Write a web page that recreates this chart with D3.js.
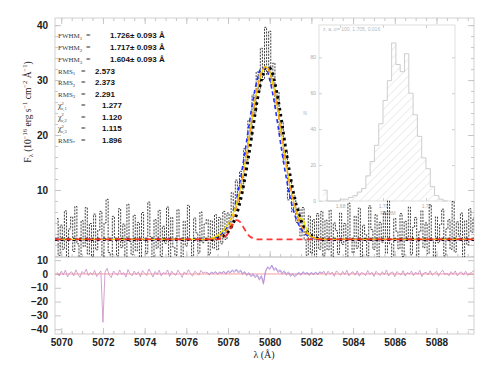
<!DOCTYPE html>
<html>
<head>
<meta charset="utf-8">
<script src="https://cdn.jsdelivr.net/npm/d3@7/dist/d3.min.js"></script>
<style>
  body { margin: 0; background: #fff; }
  svg { display: block; }
  .tick text { font-family: "Liberation Sans", Arial, sans-serif; font-weight: bold; font-size: 10px; fill: #222; }
  .inset .tick text { font-size: 5px; font-weight: normal; fill: #aaa; }
</style>
</head>
<body>
<svg width="490" height="368"></svg>
<script>
// observed spectrum, sampled every 0.1 A from 5069.8 A
var lamStart = 5069.8, lamStep = 0.1;
var flux = [
  4.8, -1.9, 3.6, -0.8, 6.2, -2.4, 2.9, 5.1, -1.2, 7.0, 0.2, -2.8, 4.4, -0.3, 6.8, -1.7, 3.9, -2.2, 5.6, -0.9,
  2.7, 6.1, -2.6, 4.0, 8.3, -1.4, -3.0, 5.2, 1.0, -2.0, 6.6, -0.5, 3.8, -2.9, 7.4, 0.6, -1.8, 5.4, -1.1, 4.1,
  -2.7, 5.9, 0.8, -1.6, 7.8, 1.5, -2.5, 4.6, -0.6, 6.3, -2.1, 3.4, 0.3, 6.9, -2.3, 5.0, -0.4, -1.9, 6.4, 1.2,
  -2.8, 4.3, -0.2, 7.2, 0.9, -2.0, 4.9, 2.2, -1.5, 6.0, 0.4, 3.8,
  4.6, -1.8, 4.4, -0.6, 5.5, -0.9, 5.0, 0.2, 6.1, 1.0, 5.8, 3.0, 9.5, 6.2, 11.8, 7.5, 13.4, 10.2, 17.5, 14.8,
  22.6, 19.4, 27.3, 24.0, 31.5, 28.2, 35.8, 30.1, 39.6, 31.0, 38.9, 29.2, 33.1, 25.3, 27.8, 20.1, 22.5, 15.0,
  16.9, 8.2, 11.5, 6.0, 8.9, 4.1, 6.7, 1.6, 6.8, 0.9, -1.9, 5.3, -1.5, 4.6, -2.4, 5.7, -0.8, 6.1, -2.0,
  4.5, -0.9, 6.3, -2.4, 4.0, 2.6, -1.7, 5.8, 0.1, 3.9, -2.8, 7.6, 1.0, -1.4, 5.2, -0.6, 6.7, -2.2, 3.6, 1.9,
  -2.0, 7.1, 2.8, -0.8, 5.5, -2.6, 4.1, 0.5, 6.0, -1.5, 8.0, 0.2, -2.4, 4.8, 2.5, -0.7, 5.7, -2.1, 4.3, 1.1,
  6.9, -1.8, 3.2, 5.0, -2.7, 2.4, 6.2, -0.5, 4.0, -1.6, 7.3, 0.9, -2.9, 5.1, 0.4, 3.7, 6.5, -2.0, 2.9, 4.6,
  -0.8, 7.9, -1.3, 4.2, 1.6, 5.8, -2.3, 4.4, 0.0, 6.6, 2.3, 4.9
];

// residuals on the same grid
var resid = [
  1.2, -1.5, 2.0, -0.6, 2.8, -2.1, 0.5, 1.6, -1.3, 3.0, -0.2, -2.4, 1.8, 0.1, 3.5, -1.2, 1.1, -0.8, 2.6, -1.9,
  0.4, 2.2, -35.0, 1.3, 4.1, -0.7, -2.6, 2.0, 0.8, -1.0, 2.9, -0.3, 1.0, -2.2, 3.2, 0.2, -1.4, 2.1, -0.5, 1.6,
  -2.0, 2.4, 0.5, -1.1, 3.6, 0.9, -2.3, 1.8, -0.4, 2.7, -1.5, 1.2, 0.0, 2.9, -1.8, 2.0, -0.1, -0.9, 2.8, 0.4,
  -2.5, 1.5, -0.3, 3.1, 0.3, -1.6, 1.9, 0.9, -0.9, 2.6, 0.6, 1.4,
  0.8, -0.6, 1.1, 0.2, 1.4, -0.3, 1.0, 0.4, 1.6, -0.2, 1.9, 0.5, 2.4, 1.0, 2.8, 0.6, 2.1, -0.5, 1.2, -1.3,
  0.4, -2.0, -0.6, -2.8, -1.2, -4.5, -2.0, -7.5, 1.5, 4.8, 3.2, 6.0, 2.5, 3.8, 1.0, 2.2, -0.3, 1.4, -0.9, 0.6,
  -1.8, -0.4, -2.2, -0.8, 0.5, -1.0, 1.2, -0.3, 0.7, -1.1, 0.9, -0.8, 1.1, -0.6, 1.3, 0.2, 1.8,
  -1.1, 2.0, -0.2, 1.4, -1.7, 2.3, 0.6, -1.0, 1.9, -0.5, 2.7, -1.3, 0.8, 1.6, -0.9, 2.2, -1.6, 1.1, 0.4, -1.2,
  2.5, -0.4, 1.3, -1.8, 2.0, 0.2, -1.1, 1.7, -0.6, 2.9, -1.4, 0.9, 1.5, -2.0, 1.8, 0.3, -0.8, 2.4, -1.5, 1.0,
  0.1, 2.1, -1.2, 1.4, -0.3, 2.6, -1.9, 0.7, 1.2, -0.7, 2.3, -1.0, 0.5, 1.9, -1.6, 1.1, 2.8, -0.5, 0.6, -1.3,
  1.7, -0.2, 2.2, -1.4, 0.9, 1.5, -0.8, 2.0, -1.1, 0.4, 1.3, 2.4
];

// second residual (blue), only across the line, from 5077.0 A every 0.1 A
var residBlueStart = 5077.0;
var residBlue = [
  1.0, -0.2, 1.3, 0.6, 1.7, 0.2, 1.4, 0.8, 2.0, 0.3, 2.4, 1.1, 3.0, 1.8, 3.6, 1.5, 2.8, 0.4, 1.8, -0.4,
  1.0, -1.2, 0.2, -1.8, -0.4, -3.4, -1.1, -6.2, 2.2, 5.2, 3.9, 6.5, 3.4, 4.6, 2.0, 3.1, 0.9, 2.3, 0.2, 1.5,
  -0.8, 0.5, -1.2, 0.1, 1.2, -0.3, 1.7, 0.3, 1.2, -0.5, 1.3, -0.3, 1.5, -0.2, 1.6, 0.6, 2.1
];

// fitted models, from 5077.0 A every 0.2 A; flat continuum outside
var continuum = 1.0;
var fitStart = 5077.0, fitStep = 0.2;
var modelBlack  = [1.0, 1.0, 1.1, 1.3, 1.7, 2.4, 3.6, 5.5, 8.3, 12.1, 16.6, 21.6, 26.4, 30.1, 32.2, 32.2, 30.1, 26.4, 21.6, 16.6, 12.1, 8.3, 5.5, 3.6, 2.4, 1.7, 1.3, 1.1, 1.0];
var modelBlue   = [1.0, 1.1, 1.3, 1.7, 2.4, 3.6, 5.5, 8.3, 12.1, 16.6, 21.6, 26.4, 30.1, 32.2, 32.2, 30.1, 26.4, 21.6, 16.6, 12.1, 8.3, 5.5, 3.6, 2.4, 1.7, 1.3, 1.1, 1.0, 1.0];
var modelYellow = [1.0, 1.2, 1.5, 2.0, 2.8, 3.8, 5.3, 7.4, 10.4, 14.4, 19.1, 24.0, 28.2, 31.2, 32.4, 31.5, 28.6, 24.3, 19.3, 14.5, 10.3, 7.0, 5.0, 4.6, 2.4, 1.5, 1.2, 1.1, 1.0];
var modelOrange = [1.0, 1.1, 1.2, 1.5, 2.0, 2.9, 4.4, 6.8, 10.1, 14.3, 19.1, 24.1, 28.4, 31.4, 32.5, 31.4, 28.4, 24.1, 19.1, 14.3, 10.1, 6.8, 4.4, 2.9, 2.0, 1.5, 1.2, 1.1, 1.0];
var compRed     = [1.0, 1.0, 1.0, 1.1, 1.3, 2.1, 3.5, 4.5, 4.1, 2.8, 1.7, 1.2, 1.0, 1.0, 1.0];

// fit summary text
var fitLabels = ["FWHM|1", "FWHM|2", "FWHM|3", "RMS|1", "RMS|2", "RMS|3", "χ|ν,1", "χ|ν,2", "χ|ν,3", "RMS|*"];
var fitValues = ["1.726± 0.093 Å", "1.717± 0.093 Å", "1.604± 0.093 Å", "2.573", "2.373", "2.291", "1.277", "1.120", "1.115", "1.896"];

// inset histogram of FWHM
var binStart = 1.672, binWidth = 0.002;
var binCounts = [6, 0, 0, 0, 1, 1, 2, 3, 5, 7, 14, 22, 31, 43, 56, 67, 88, 76, 72, 82, 60, 48, 36, 24, 18, 8, 3, 1, 0];

var xTicks = [5070, 5072, 5074, 5076, 5078, 5080, 5082, 5084, 5086, 5088];
var mainYTicks = [0, 10, 20, 30, 40];
var residYTicks = [-40, -30, -20, -10, 0, 10];
var insetXTicks = [1.68, 1.70, 1.72];
var insetYTicks = [0, 20, 40, 60, 80];

var svg = d3.select("svg");
var frameColor = "#c6c6c6";

var x = d3.scaleLinear().domain([5069.7, 5089.8]).range([55, 474]);
var y = d3.scaleLinear().domain([-2.2, 41.3]).range([257, 18]);
var yr = d3.scaleLinear().domain([-43.5, 12.3]).range([334, 257]);

var defs = svg.append("defs");
defs.append("clipPath").attr("id", "clipMain")
  .append("rect").attr("x", 55).attr("y", 18).attr("width", 419).attr("height", 239);
defs.append("clipPath").attr("id", "clipRes")
  .append("rect").attr("x", 55).attr("y", 257).attr("width", 419).attr("height", 77);
defs.append("pattern").attr("id", "hatch")
    .attr("patternUnits", "userSpaceOnUse")
    .attr("width", 6).attr("height", 6)
    .attr("patternTransform", "rotate(45)")
  .append("line")
    .attr("x1", 0).attr("y1", 0).attr("x2", 0).attr("y2", 6)
    .attr("stroke", "#c8c8c8").attr("stroke-width", 0.7);

// style a tick group: light ticks, no domain line
function styleAxis(g) {
  g.select(".domain").remove();
  g.selectAll(".tick line").attr("stroke", frameColor);
}

// ---------- main panel axes ----------
var minorX = d3.range(5070, 5090, 0.5);
svg.append("g").attr("transform", "translate(0,18)")
  .call(d3.axisTop(x).tickValues(minorX).tickSize(-3).tickFormat("")).call(styleAxis);
svg.append("g").attr("transform", "translate(0,18)")
  .call(d3.axisTop(x).tickValues(xTicks).tickSize(-6).tickFormat("")).call(styleAxis);
svg.append("g").attr("transform", "translate(0,257)")
  .call(d3.axisBottom(x).tickValues(minorX).tickSize(-3).tickFormat("")).call(styleAxis);
svg.append("g").attr("transform", "translate(0,257)")
  .call(d3.axisBottom(x).tickValues(xTicks).tickSize(-6).tickFormat("")).call(styleAxis);

svg.append("g").attr("transform", "translate(55,0)")
  .call(d3.axisLeft(y).tickValues(d3.range(-2, 42, 2)).tickSize(-3).tickFormat("")).call(styleAxis);
svg.append("g").attr("transform", "translate(55,0)")
  .call(d3.axisLeft(y).tickValues(mainYTicks).tickSize(-6).tickPadding(7)
    .tickFormat(function(d) { return d === 0 ? "" : d; }))
  .call(styleAxis);
svg.append("g").attr("transform", "translate(474,0)")
  .call(d3.axisRight(y).tickValues(d3.range(-2, 42, 2)).tickSize(-3).tickFormat("")).call(styleAxis);
svg.append("g").attr("transform", "translate(474,0)")
  .call(d3.axisRight(y).tickValues(mainYTicks).tickSize(-6).tickFormat("")).call(styleAxis);

// ---------- residual panel axes ----------
svg.append("g").attr("transform", "translate(0,334)")
  .call(d3.axisBottom(x).tickValues(minorX).tickSize(-3).tickFormat("")).call(styleAxis);
svg.append("g").attr("transform", "translate(0,334)")
  .call(d3.axisBottom(x).tickValues(xTicks).tickSize(-6).tickPadding(5).tickFormat(d3.format("d")))
  .call(styleAxis);
svg.append("g").attr("transform", "translate(55,0)")
  .call(d3.axisLeft(yr).tickValues(residYTicks).tickSize(-6).tickPadding(7)
    .tickFormat(function(d) { return String(d).replace("-", "\u2212"); }))
  .call(styleAxis);
svg.append("g").attr("transform", "translate(474,0)")
  .call(d3.axisRight(yr).tickValues(residYTicks).tickSize(-6).tickFormat("")).call(styleAxis);

// frames
svg.append("rect").attr("x", 55).attr("y", 18).attr("width", 419).attr("height", 239)
  .attr("fill", "none").attr("stroke", frameColor).attr("stroke-width", 0.8);
svg.append("rect").attr("x", 55).attr("y", 257).attr("width", 419).attr("height", 77)
  .attr("fill", "none").attr("stroke", frameColor).attr("stroke-width", 0.8);

// ---------- inset histogram ----------
var xi = d3.scaleLinear().domain([1.6702, 1.7335]).range([319, 455]);
var yi = d3.scaleLinear().domain([0, 98]).range([201, 25]);
var inset = svg.append("g").attr("class", "inset");

inset.append("rect").attr("x", 319).attr("y", 25).attr("width", 136).attr("height", 176)
  .attr("fill", "#fff").attr("stroke", "#d0d0d0").attr("stroke-width", 0.7);

var histPts = binCounts.map(function(c, i) { return [binStart + i * binWidth, c]; });
histPts.push([binStart + binCounts.length * binWidth, 0]);
var histLine = d3.line()
  .curve(d3.curveStepAfter)
  .x(function(d) { return xi(d[0]); })
  .y(function(d) { return yi(d[1]); });
var histArea = d3.area()
  .curve(d3.curveStepAfter)
  .x(function(d) { return xi(d[0]); })
  .y0(yi(0))
  .y1(function(d) { return yi(d[1]); });
inset.append("path").attr("d", histArea(histPts)).attr("fill", "url(#hatch)");
inset.append("path").attr("d", histLine(histPts))
  .attr("fill", "none").attr("stroke", "#c2c2c2").attr("stroke-width", 0.8);

var insetAx = [
  [d3.axisLeft(yi).tickValues(insetYTicks).tickSize(-3).tickPadding(3), "translate(319,0)"],
  [d3.axisRight(yi).tickValues(insetYTicks).tickSize(-3).tickFormat(""), "translate(455,0)"],
  [d3.axisBottom(xi).tickValues(insetXTicks).tickSize(-3).tickPadding(3).tickFormat(d3.format(".2f")), "translate(0,201)"],
  [d3.axisTop(xi).tickValues(insetXTicks).tickSize(-3).tickFormat(""), "translate(0,25)"]
];
insetAx.forEach(function(a) {
  inset.append("g").attr("transform", a[1]).call(a[0]).call(function(g) {
    g.select(".domain").remove();
    g.selectAll(".tick line").attr("stroke", "#d0d0d0");
  });
});
inset.append("text").attr("x", 388).attr("y", 215).attr("text-anchor", "middle")
  .style("font", "5px 'Liberation Sans', sans-serif").attr("fill", "#b0b0b0").text("FWHM");
inset.append("text").attr("x", 305).attr("y", 115).attr("text-anchor", "middle")
  .style("font", "5px 'Liberation Sans', sans-serif").attr("fill", "#b0b0b0").text("N");
inset.append("text").attr("x", 323).attr("y", 31)
  .style("font", "5px 'Liberation Sans', sans-serif").attr("fill", "#b8b8b8")
  .text("z, a, σ=  100,   1.705,   0.016");

// ---------- spectrum ----------
var main = svg.append("g").attr("clip-path", "url(#clipMain)");

var stepLine = d3.line()
  .curve(d3.curveStep)
  .x(function(d) { return x(d[0]); })
  .y(function(d) { return y(d[1]); });

var specPts = flux.map(function(v, i) { return [lamStart + i * lamStep, v]; });
main.append("path").attr("d", stepLine(specPts))
  .attr("fill", "none").attr("stroke", "#111").attr("stroke-width", 0.8)
  .attr("stroke-dasharray", "2,1.2");

// models with continuum carried to the panel edges
function modelPts(arr) {
  var pts = [[x.domain()[0], continuum]];
  arr.forEach(function(v, i) { pts.push([fitStart + i * fitStep, v]); });
  pts.push([x.domain()[1], continuum]);
  return pts;
}
var smooth = d3.line()
  .curve(d3.curveMonotoneX)
  .x(function(d) { return x(d[0]); })
  .y(function(d) { return y(d[1]); });

main.append("path").attr("d", smooth(modelPts(modelBlack)))
  .attr("fill", "none").attr("stroke", "#000").attr("stroke-width", 3.2)
  .attr("stroke-dasharray", "2.6,3.4");
main.append("path").attr("d", smooth(modelPts(modelBlue)))
  .attr("fill", "none").attr("stroke", "#2030ff").attr("stroke-width", 1.6)
  .attr("stroke-dasharray", "4,3").attr("stroke-dashoffset", 2);
main.append("path").attr("d", smooth(modelPts(modelYellow)))
  .attr("fill", "none").attr("stroke", "#f4e000").attr("stroke-width", 1.3);
main.append("path").attr("d", smooth(modelPts(modelOrange)))
  .attr("fill", "none").attr("stroke", "#ff9a10").attr("stroke-width", 1.4)
  .attr("stroke-dasharray", "5,3").attr("stroke-dashoffset", 4);
main.append("path").attr("d", smooth(modelPts(compRed)))
  .attr("fill", "none").attr("stroke", "#ff2020").attr("stroke-width", 1.8)
  .attr("stroke-dasharray", "6,4").attr("opacity", 0.9);

// ---------- residuals ----------
var res = svg.append("g").attr("clip-path", "url(#clipRes)");
var resLine = d3.line()
  .x(function(d) { return x(d[0]); })
  .y(function(d) { return yr(d[1]); });
res.append("line").attr("x1", 55).attr("x2", 474).attr("y1", yr(0)).attr("y2", yr(0))
  .attr("stroke", "#f08080").attr("stroke-width", 0.8);
res.append("path").attr("d", resLine(residBlue.map(function(v, i) { return [residBlueStart + i * lamStep, v]; })))
  .attr("fill", "none").attr("stroke", "#8c8cf0").attr("stroke-width", 0.9).attr("opacity", 0.8);
res.append("path").attr("d", resLine(resid.map(function(v, i) { return [lamStart + i * lamStep, v]; })))
  .attr("fill", "none").attr("stroke", "#c487c4").attr("stroke-width", 0.9).attr("opacity", 0.85);

// ---------- fit summary text ----------
var rowY = [38, 50, 62, 73.5, 85, 96.5, 108, 119.5, 131, 142.5];
var eqX = {FWHM: 86, RMS: 81, "χ": 81};
var valX = {FWHM: 110, RMS: 95, "χ": 102};
var baseSize = {FWHM: 7, RMS: 7, "χ": 8};
var txt = svg.append("g").style("font-family", "'Liberation Serif', 'DejaVu Serif', serif");
fitLabels.forEach(function(lab, i) {
  var parts = lab.split("|"), base = parts[0];
  var isChi = base === "χ", isStar = parts[1] === "*";
  var t = txt.append("text").attr("x", 58).attr("y", rowY[i]).attr("font-size", baseSize[base]).attr("fill", "#3a3a3a");
  t.append("tspan").text(base);
  if (isChi) {
    t.append("tspan").attr("font-size", 4.5).attr("dy", -3.5).text("2");
    t.append("tspan").attr("font-size", 4.5).attr("dy", 5.8).attr("dx", -2.5).text(parts[1]);
  } else {
    t.append("tspan").attr("font-size", 5).attr("dy", 1.5).text(parts[1]);
  }
  var ex = isStar ? 81 : eqX[base];
  var vx = isStar ? 102 : valX[base];
  txt.append("text").attr("x", ex).attr("y", rowY[i]).attr("font-size", 8).attr("fill", "#333").text("=");
  txt.append("text").attr("x", vx).attr("y", rowY[i])
    .style("font", "bold 8px 'Liberation Sans', Arial, sans-serif").attr("fill", "#111")
    .text(fitValues[i]);
});

// ---------- axis titles ----------
var yt = svg.append("text")
  .attr("transform", "translate(31,112) rotate(-90)")
  .attr("text-anchor", "middle")
  .style("font", "9.5px 'Liberation Serif', 'DejaVu Serif', serif").attr("fill", "#222");
yt.append("tspan").text("F");
yt.append("tspan").attr("font-size", 6.5).attr("dy", 2).text("λ");
yt.append("tspan").attr("dy", -2).text(" (10");
yt.append("tspan").attr("font-size", 6.5).attr("dy", -4).text("−16");
yt.append("tspan").attr("dy", 4).text(" erg s");
yt.append("tspan").attr("font-size", 6.5).attr("dy", -4).text("−1");
yt.append("tspan").attr("dy", 4).text(" cm");
yt.append("tspan").attr("font-size", 6.5).attr("dy", -4).text("−2");
yt.append("tspan").attr("dy", 4).text(" Å");
yt.append("tspan").attr("font-size", 6.5).attr("dy", -4).text("−1");
yt.append("tspan").attr("dy", 4).text(")");

svg.append("text").attr("x", 264).attr("y", 358).attr("text-anchor", "middle")
  .style("font", "10px 'Liberation Serif', 'DejaVu Serif', serif").attr("fill", "#222")
  .text("λ (Å)");
</script>
</body>
</html>
